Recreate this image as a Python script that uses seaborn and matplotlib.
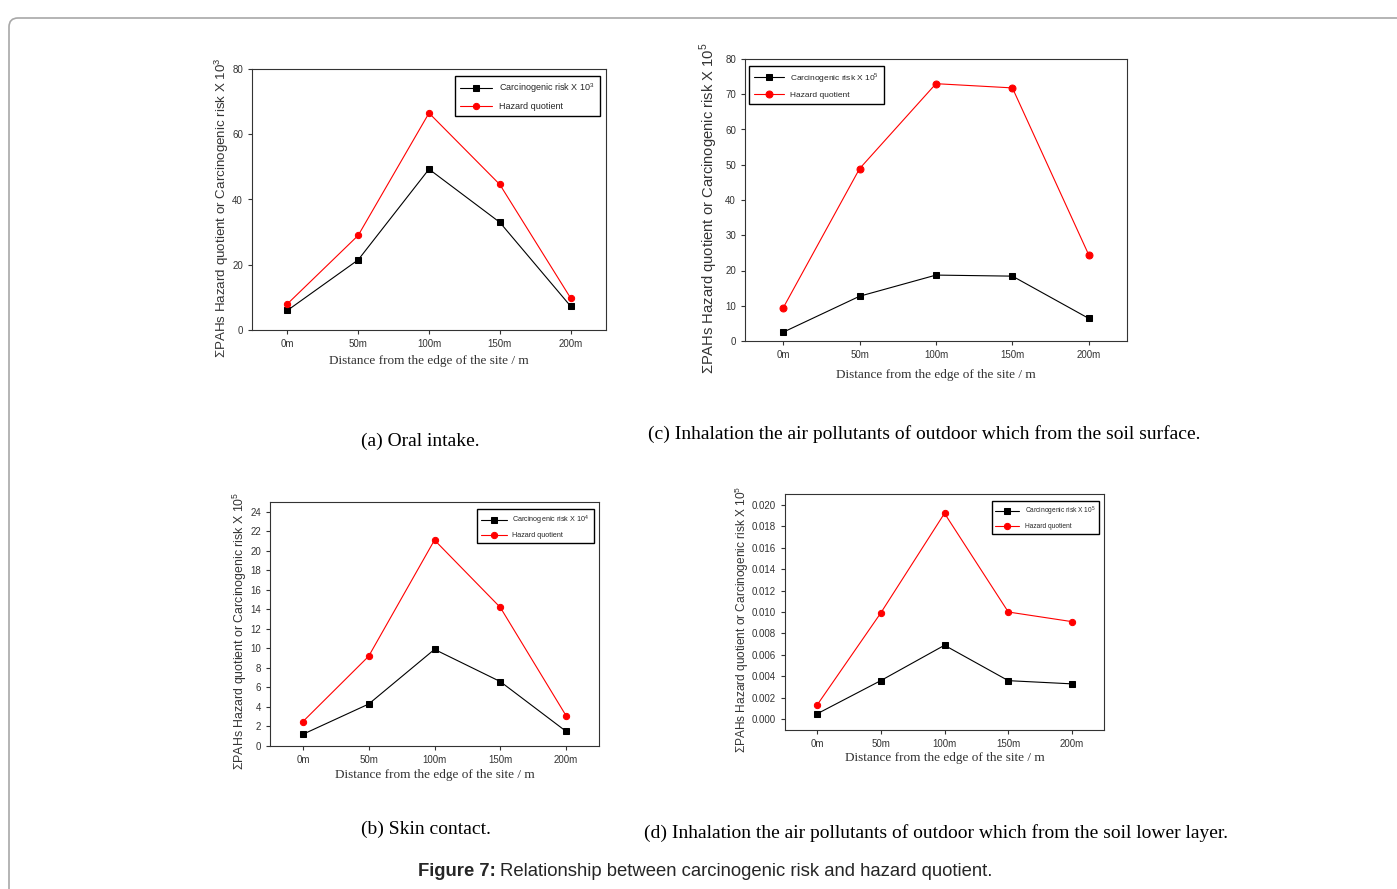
import matplotlib
matplotlib.use("Agg")
import matplotlib.pyplot as plt
import seaborn as sns
import pandas as pd
from matplotlib.patches import FancyBboxPatch
from matplotlib.transforms import IdentityTransform

# distances (categories on the x axis)
distances = ['0m', '50m', '100m', '150m', '200m']

# (a) oral intake
oral_cr = [6.0, 21.5, 49.3, 33.0, 7.3]
oral_hq = [8.0, 29.0, 66.5, 44.6, 9.8]
# (b) skin contact
skin_cr = [1.2, 4.3, 9.9, 6.6, 1.5]
skin_hq = [2.5, 9.2, 21.1, 14.2, 3.1]
# (c) inhalation, soil surface
surf_cr = [2.5, 12.7, 18.7, 18.4, 6.4]
surf_hq = [9.4, 48.9, 73.0, 71.8, 24.4]
# (d) inhalation, soil lower layer
lower_cr = [0.0005, 0.0036, 0.0069, 0.0036, 0.0033]
lower_hq = [0.0013, 0.0099, 0.0192, 0.0100, 0.0091]

W, H = 1397, 889
sns.set_style('ticks')
plt.rcParams['font.family'] = ['Liberation Sans', 'DejaVu Sans']
plt.rcParams['mathtext.fontset'] = 'custom'
plt.rcParams['mathtext.rm'] = 'Liberation Sans'

fig = plt.figure(figsize=(W / 100, H / 100), dpi=100)

# light grey rounded frame round the whole figure
frame = FancyBboxPatch((9, -20), 1420, H - 9 + 20 - 9, boxstyle='round,pad=0,rounding_size=9',
                       transform=IdentityTransform(), fill=False, edgecolor='#a8a8a8', lw=1.2)
fig.patches.append(frame)


def px_axes(l, r, t, b):
    return fig.add_axes([l / W, (H - b) / H, (r - l) / W, (b - t) / H])


def panel(ax, cr, hq, cr_label, ylabel, ylim, yticks, yfmt, legend_loc, legend_anchor,
          leg_fs, ylab_fs, ylab_x, xlab_y, ms=4.5):
    df = pd.DataFrame({'pos': range(len(distances)), 'cr': cr, 'hq': hq})
    sns.lineplot(data=df, x='pos', y='cr', ax=ax, color='black', lw=0.8, marker='s',
                 markersize=ms, markeredgecolor='black', label=cr_label)
    sns.lineplot(data=df, x='pos', y='hq', ax=ax, color='red', lw=0.8, marker='o',
                 markersize=ms, markeredgecolor='red', label='Hazard quotient')
    ax.set_xlim(-0.5, 4.5)
    ax.set_ylim(*ylim)
    ax.set_xticks(range(len(distances)))
    ax.set_xticklabels(distances)
    ax.set_yticks(yticks)
    ax.set_yticklabels([yfmt.format(v) for v in yticks])
    ax.tick_params(labelsize=7, length=3, width=0.8, colors='#333333', labelcolor='#333333')
    for s in ax.spines.values():
        s.set_visible(True)
        s.set_linewidth(0.8)
        s.set_color('#333333')
    ax.set_xlabel('Distance from the edge of the site / m', family='Liberation Serif',
                  fontsize=9.5, color='#333333')
    ax.xaxis.set_label_coords(0.5, xlab_y)
    ax.xaxis.label.set_va('center')
    ax.set_ylabel(ylabel, fontsize=ylab_fs, color='#333333')
    ax.yaxis.set_label_coords(ylab_x, 0.47)
    ax.yaxis.label.set_va('center')
    leg = ax.legend(loc=legend_loc, bbox_to_anchor=legend_anchor, fontsize=leg_fs,
                    frameon=True, fancybox=False, edgecolor='black', framealpha=1,
                    handlelength=3.6, borderpad=0.55, labelspacing=0.8)
    leg.get_frame().set_linewidth(1.0)


ax_a = px_axes(252, 606, 69, 330)
panel(ax_a, oral_cr, oral_hq, 'Carcinogenic risk X 10$^3$',
      r'$\Sigma$PAHs Hazard quotient or Carcinogenic risk X 10$^3$',
      (0, 80), [0, 20, 40, 60, 80], '{:.0f}', 'upper right', (0.995, 0.99),
      6.5, 9.6, -0.085, -0.12)

ax_c = px_axes(745, 1127, 59, 341)
panel(ax_c, surf_cr, surf_hq, 'Carcinogenic risk X 10$^5$',
      r'$\Sigma$PAHs Hazard quotient or Carcinogenic risk X 10$^5$',
      (0, 80), list(range(0, 81, 10)), '{:.0f}', 'upper left', (0.0, 0.99),
      6, 10.6, -0.095, -0.12, ms=5)

ax_b = px_axes(270, 599, 502, 746)
panel(ax_b, skin_cr, skin_hq, 'Carcinogenic risk X 10$^4$',
      r'$\Sigma$PAHs Hazard quotient or Carcinogenic risk X 10$^5$',
      (0, 25), list(range(0, 25, 2)), '{:.0f}', 'upper right', (0.995, 0.985),
      5.2, 8.9, -0.09, -0.12)

ax_d = px_axes(785, 1104, 494, 730)
panel(ax_d, lower_cr, lower_hq, 'Carcinogenic risk X 10$^5$',
      r'$\Sigma$PAHs Hazard quotient or Carcinogenic risk X 10$^5$',
      (-0.001, 0.021), [i * 0.002 for i in range(11)], '{:.3f}', 'upper right', (0.995, 0.985),
      4.8, 8.6, -0.135, -0.12)

# captions
cap = dict(family='Liberation Serif', fontsize=14, color='black', ha='center', va='center')
fig.text(420 / W, 1 - 441 / H, '(a) Oral intake.', **cap)
fig.text(924 / W, 1 - 434 / H, '(c) Inhalation the air pollutants of outdoor which from the soil surface.', **cap)
fig.text(426 / W, 1 - 829 / H, '(b) Skin contact.', **cap)
fig.text(936 / W, 1 - 833 / H, '(d) Inhalation the air pollutants of outdoor which from the soil lower layer.', **cap)

# figure title: bold lead-in followed by plain text
t1 = fig.text(418 / W, 1 - 872 / H, 'Figure 7:', fontsize=13.3, weight='bold', ha='left', va='center')
fig.canvas.draw()
bb = t1.get_window_extent()
fig.text((bb.x1 + 4) / W, 1 - 872 / H, 'Relationship between carcinogenic risk and hazard quotient.',
         fontsize=13.3, ha='left', va='center')

fig.savefig('out.png', dpi=100)
